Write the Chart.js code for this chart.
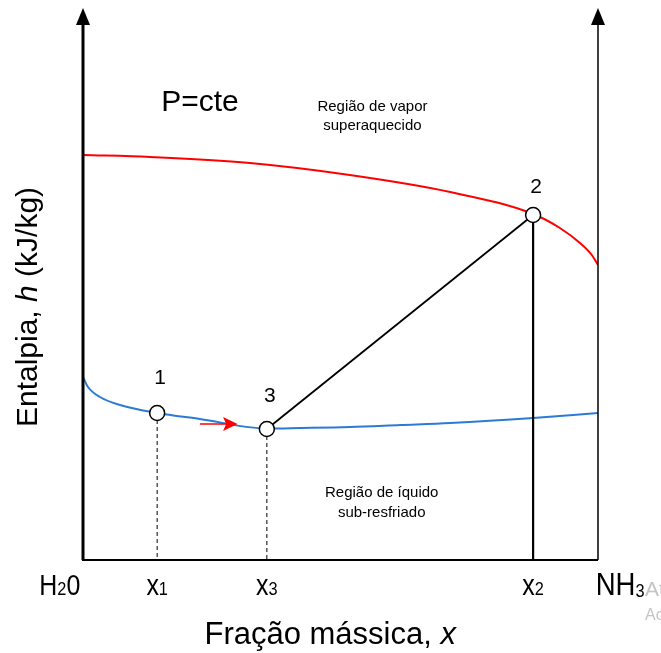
<!DOCTYPE html>
<html>
<head>
<meta charset="utf-8">
<script src="https://cdn.jsdelivr.net/npm/chart.js@4"></script>
<style>
  body { margin: 0; background: #fff; }
  #wrap { width: 661px; height: 653px; }
</style>
</head>
<body>
<div id="wrap"><canvas id="hxChart" width="661" height="653"></canvas></div>
<script>
// saturated vapour curve (x = NH3 mass fraction, h = enthalpy, arbitrary units)
const vaporX = [0, 0.13, 0.324, 0.518, 0.713, 0.874, 0.926, 0.965, 0.988, 1.0];
const vaporH = [81, 80.6, 79.4, 77, 73.6, 69.2, 66.4, 63.4, 61, 59];

// saturated liquid curve
const liquidX = [0, 0.0097, 0.033, 0.072, 0.144, 0.227, 0.357, 0.421, 0.518, 0.616, 0.713, 0.874, 1.0];
const liquidH = [36.6, 34.6, 32.6, 31, 29.4, 28.2, 26.3, 26.4, 26.6, 27, 27.4, 28.4, 29.4];

// states 1, 3, 2
const stateNames = ['1', '3', '2'];
const stateX = [0.144, 0.357, 0.874];
const stateH = [29.4, 26.2, 69.0];

// bottom axis labels: [main, subscript, tail]
const axisLabels = [['H', '2', '0'], ['x', '1', ''], ['x', '3', ''], ['x', '2', ''], ['NH', '3', '']];
const axisLabelX = [-0.045, 0.144, 0.357, 0.874, 1.043];

const pts = (xs, ys) => xs.map((x, i) => ({ x: x, y: ys[i] }));

// free text drawn on top of the chart
const annotations = {
  id: 'annotations',
  afterDraw(chart) {
    const ctx = chart.ctx;
    const xs = chart.scales.x, ys = chart.scales.y;
    const px = v => xs.getPixelForValue(v);
    const py = v => ys.getPixelForValue(v);
    const top = py(110), bottom = py(0);

    ctx.save();
    ctx.fillStyle = '#000';
    ctx.strokeStyle = '#000';

    // axes
    ctx.lineWidth = 3;
    ctx.beginPath(); ctx.moveTo(px(0), bottom); ctx.lineTo(px(0), top + 12); ctx.stroke();
    ctx.lineWidth = 1.5;
    ctx.beginPath(); ctx.moveTo(px(1), bottom); ctx.lineTo(px(1), top + 12); ctx.stroke();
    ctx.lineWidth = 2;
    ctx.beginPath(); ctx.moveTo(px(0) - 1, bottom); ctx.lineTo(px(1), bottom); ctx.stroke();
    [0, 1].forEach(v => {
      ctx.beginPath();
      ctx.moveTo(px(v), top - 2);
      ctx.lineTo(px(v) - 7, top + 15);
      ctx.lineTo(px(v) + 7, top + 15);
      ctx.closePath();
      ctx.fill();
    });

    // red flow arrow on liquid line
    const ay = py(27.2);
    ctx.strokeStyle = '#ff0000';
    ctx.fillStyle = '#ff0000';
    ctx.lineWidth = 1.5;
    ctx.beginPath(); ctx.moveTo(px(0.227), ay); ctx.lineTo(px(0.28), ay); ctx.stroke();
    ctx.beginPath();
    ctx.moveTo(px(0.3), ay);
    ctx.lineTo(px(0.272), ay - 7);
    ctx.lineTo(px(0.278), ay);
    ctx.lineTo(px(0.272), ay + 7);
    ctx.closePath();
    ctx.fill();

    ctx.fillStyle = '#000';
    ctx.textAlign = 'center';
    ctx.textBaseline = 'middle';

    ctx.font = '30px "Liberation Sans", Arial, sans-serif';
    ctx.fillText('P=cte', px(0.227), py(91.4));

    ctx.font = '15px "Liberation Sans", Arial, sans-serif';
    ctx.fillText('Região de vapor', px(0.562), py(90.6));
    ctx.fillText('superaquecido', px(0.562), py(86.8));
    ctx.fillText('Região de íquido', px(0.58), py(13.4));
    ctx.fillText('sub-resfriado', px(0.58), py(9.4));

    ctx.font = '21px "Liberation Sans", Arial, sans-serif';
    const lblOff = [7, 6.6, 5.6];
    stateNames.forEach((n, i) => {
      ctx.fillText(n, px(stateX[i]) + 3, py(stateH[i] + lblOff[i]));
    });

    // bottom labels with subscripts
    ctx.textAlign = 'left';
    ctx.textBaseline = 'alphabetic';
    const base = bottom + 35;
    axisLabels.forEach((parts, i) => {
      const big = i === 4 ? 32 : 29;
      const bigFont = big + 'px "Liberation Sans", Arial, sans-serif';
      const smallFont = '19px "Liberation Sans", Arial, sans-serif';
      ctx.save();
      ctx.translate(px(axisLabelX[i]), base);
      ctx.scale(0.86, 1);
      ctx.font = bigFont;
      const w0 = ctx.measureText(parts[0]).width;
      ctx.font = smallFont;
      const w1 = ctx.measureText(parts[1]).width;
      ctx.font = bigFont;
      const w2 = ctx.measureText(parts[2]).width;
      let x = -(w0 + w1 + w2) / 2;
      ctx.fillText(parts[0], x, 0); x += w0;
      ctx.font = smallFont; ctx.fillText(parts[1], x, (i === 4 ? 2 : 0)); x += w1;
      ctx.font = bigFont; ctx.fillText(parts[2], x, 0);
      ctx.restore();
    });

    // axis titles
    ctx.textBaseline = 'middle';
    ctx.font = '31px "Liberation Sans", Arial, sans-serif';
    const t1 = 'Fração mássica, ', t2 = 'x';
    const tw1 = ctx.measureText(t1).width;
    ctx.font = 'italic 31px "Liberation Sans", Arial, sans-serif';
    const tw2 = ctx.measureText(t2).width;
    let tx = px(0.48) - (tw1 + tw2) / 2;
    ctx.textAlign = 'left';
    ctx.font = '31px "Liberation Sans", Arial, sans-serif';
    ctx.fillText(t1, tx, bottom + 75);
    ctx.font = 'italic 31px "Liberation Sans", Arial, sans-serif';
    ctx.fillText(t2, tx + tw1, bottom + 75);

    ctx.save();
    ctx.translate(29, py(50.6));
    ctx.rotate(-Math.PI / 2);
    const y1 = 'Entalpia, ', y2 = 'h', y3 = ' (kJ/kg)';
    const f = '30px "Liberation Sans", Arial, sans-serif';
    const fi = 'italic 30px "Liberation Sans", Arial, sans-serif';
    ctx.font = f; const a1 = ctx.measureText(y1).width; const a3 = ctx.measureText(y3).width;
    ctx.font = fi; const a2 = ctx.measureText(y2).width;
    let yx = -(a1 + a2 + a3) / 2;
    ctx.font = f; ctx.fillText(y1, yx, 0);
    ctx.font = fi; ctx.fillText(y2, yx + a1, 0);
    ctx.font = f; ctx.fillText(y3, yx + a1 + a2, 0);
    ctx.restore();

    // faint watermark at right edge
    ctx.fillStyle = '#c4c4c4';
    ctx.font = '21px "Liberation Sans", Arial, sans-serif';
    ctx.fillText('Ativar o Windows', 645, bottom + 30);
    ctx.font = '16px "Liberation Sans", Arial, sans-serif';
    ctx.fillText('Acesse Configurações', 645, bottom + 56);

    ctx.restore();
  }
};

const ctx = document.getElementById('hxChart').getContext('2d');
new Chart(ctx, {
  type: 'line',
  data: {
    datasets: [
      {
        label: 'Estados',
        data: pts(stateX, stateH),
        showLine: false,
        pointRadius: 7.5,
        pointBackgroundColor: '#ffffff',
        pointBorderColor: '#000000',
        pointBorderWidth: 1.5
      },
      {
        label: '3-2',
        data: [{ x: stateX[1], y: stateH[1] }, { x: stateX[2], y: stateH[2] }],
        borderColor: '#000000',
        borderWidth: 1.8,
        pointRadius: 0
      },
      {
        label: 'x2',
        data: [{ x: stateX[2], y: stateH[2] }, { x: stateX[2], y: 0 }],
        borderColor: '#000000',
        borderWidth: 2.2,
        pointRadius: 0
      },
      {
        label: 'x1',
        data: [{ x: stateX[0], y: stateH[0] }, { x: stateX[0], y: 0 }],
        borderColor: '#000000',
        borderWidth: 1,
        borderDash: [4, 3],
        pointRadius: 0
      },
      {
        label: 'x3',
        data: [{ x: stateX[1], y: stateH[1] }, { x: stateX[1], y: 0 }],
        borderColor: '#000000',
        borderWidth: 1,
        borderDash: [4, 3],
        pointRadius: 0
      },
      {
        label: 'Vapor',
        data: pts(vaporX, vaporH),
        borderColor: '#ff0000',
        borderWidth: 2,
        cubicInterpolationMode: 'monotone',
        pointRadius: 0
      },
      {
        label: 'Líquido',
        data: pts(liquidX, liquidH),
        borderColor: '#2b7bd4',
        borderWidth: 2,
        cubicInterpolationMode: 'monotone',
        pointRadius: 0
      }
    ]
  },
  options: {
    responsive: false,
    animation: false,
    layout: { padding: { left: 83, right: 63, top: 10, bottom: 93 } },
    plugins: { legend: { display: false }, tooltip: { enabled: false } },
    scales: {
      x: { type: 'linear', min: 0, max: 1, display: false },
      y: { type: 'linear', min: 0, max: 110, display: false }
    }
  },
  plugins: [annotations]
});
</script>
</body>
</html>
